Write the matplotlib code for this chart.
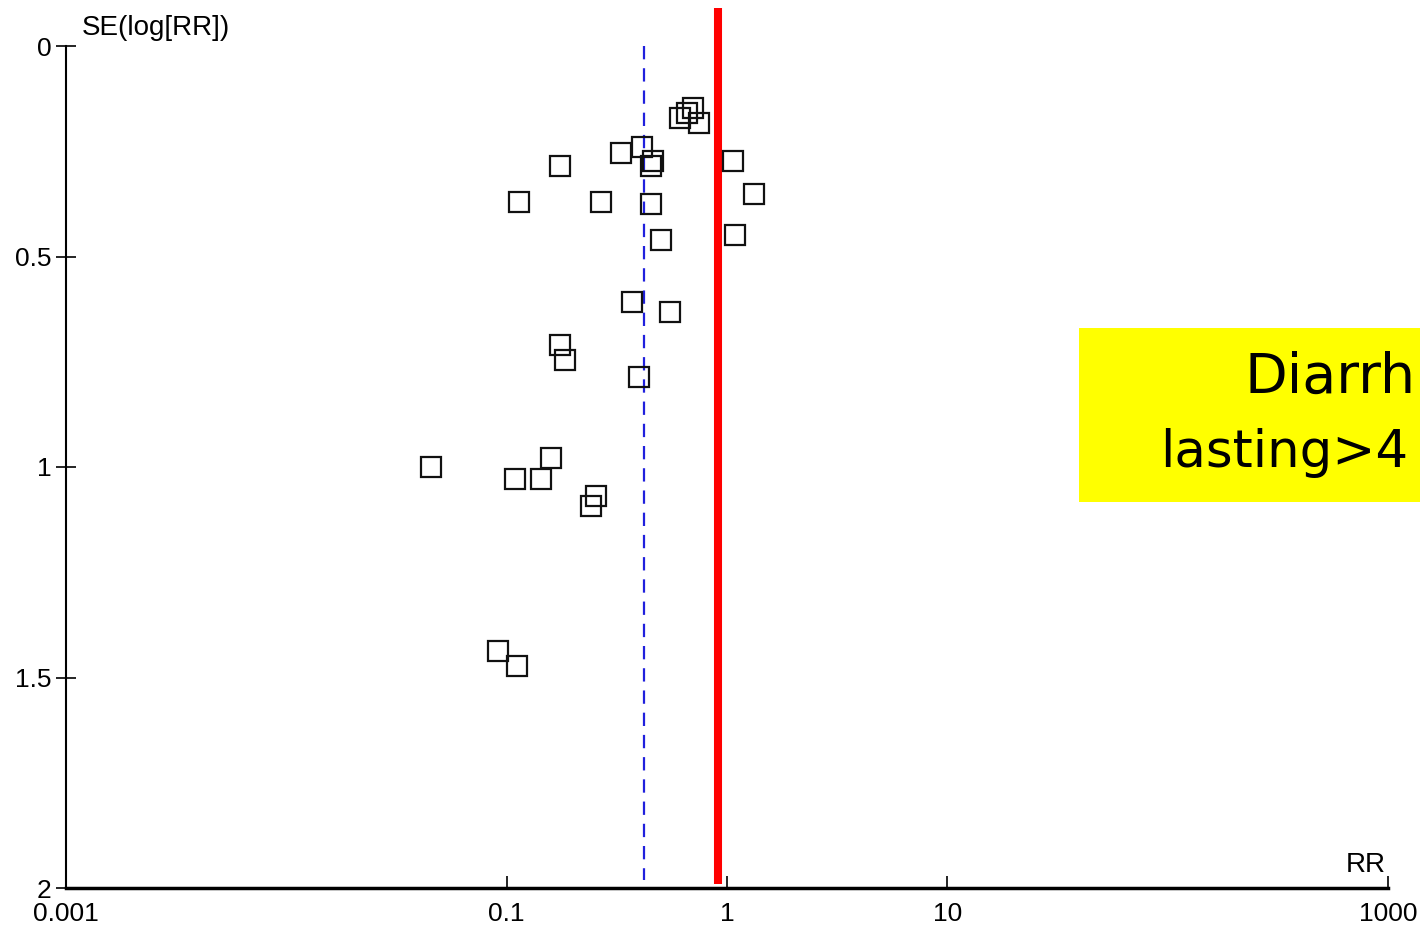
import matplotlib
matplotlib.use("Agg")
import matplotlib.pyplot as plt
import numpy as np

# funnel plot: relative risk vs standard error of log(RR)
rr = [0.70, 0.66, 0.61, 0.75, 0.41, 0.33, 0.46, 0.45, 0.175, 1.06,
      1.33, 0.114, 0.268, 0.45, 0.50, 1.09, 0.37, 0.55, 0.175, 0.184,
      0.40, 0.0454, 0.159, 0.109, 0.143, 0.254, 0.242, 0.0915, 0.111]
se = [0.147, 0.159, 0.171, 0.183, 0.240, 0.254, 0.273, 0.285, 0.285, 0.273,
      0.352, 0.371, 0.371, 0.375, 0.461, 0.449, 0.608, 0.632, 0.710, 0.746,
      0.786, 1.000, 0.979, 1.029, 1.029, 1.069, 1.093, 1.437, 1.473]

pooled_rr = 0.42
null_rr = 0.91

x_ticks = [0.001, 0.1, 1, 10, 1000]
x_tick_labels = ["0.001", "0.1", "1", "10", "1000"]
y_ticks = [0, 0.5, 1, 1.5, 2]
y_tick_labels = ["0", "0.5", "1", "1.5", "2"]

W, H = 1420, 926
fig = plt.figure(figsize=(W / 100, H / 100), dpi=100)
ax = fig.add_axes([66 / W, 1 - 888 / H, (1388 - 66) / W, (888 - 46) / H])

ax.set_xscale("log")
ax.set_xlim(0.001, 1000)
ax.set_ylim(2, 0)

ax.plot([null_rr, null_rr], [-0.09, 1.99], color="#ff0000", lw=5.8,
        solid_capstyle="butt", clip_on=False, zorder=2)
ax.plot([pooled_rr, pooled_rr], [0, 1.98], color="#2020dd", lw=1.6,
        dashes=(6, 4), zorder=2)
ax.plot(rr, se, linestyle="none", marker="s", markersize=14.5,
        markerfacecolor="none", markeredgecolor="#111111",
        markeredgewidth=1.6, zorder=3)

for side in ["top", "right"]:
    ax.spines[side].set_visible(False)
ax.spines["left"].set_linewidth(1.5)
ax.spines["bottom"].set_linewidth(2.5)

ax.set_xticks(x_ticks)
ax.set_xticklabels(x_tick_labels)
ax.xaxis.set_minor_locator(matplotlib.ticker.NullLocator())
ax.set_yticks(y_ticks)
ax.set_yticklabels(y_tick_labels)

font = "Liberation Sans"
for lab in ax.get_xticklabels() + ax.get_yticklabels():
    lab.set_fontfamily(font)
    lab.set_fontsize(19)
ax.tick_params(axis="x", direction="in", length=9, width=1.2, pad=10)
ax.tick_params(axis="y", direction="inout", length=15, width=1.2, pad=3)

ax.text(0.012, 1.021, "SE(log[RR])", transform=ax.transAxes, ha="left",
        va="center", fontsize=20, fontfamily=font)
ax.text(0.9985, 0.027, "RR", transform=ax.transAxes, ha="right",
        va="center", fontsize=20, fontfamily=font)

# yellow label box, cut off at the right edge
fig.patches.append(plt.Rectangle((1079 / W, 1 - 502 / H), (W - 1079) / W,
                                 (502 - 328) / H, transform=fig.transFigure,
                                 facecolor="#ffff00", edgecolor="none"))
fig.text(1416 / W, 1 - 378 / H, "Diarrh", ha="right", va="center",
         fontsize=40, fontfamily="DejaVu Sans")
fig.text(1408 / W, 1 - 453 / H, "lasting>4", ha="right", va="center",
         fontsize=37, fontfamily="DejaVu Sans")

fig.savefig("out.png", dpi=100)
